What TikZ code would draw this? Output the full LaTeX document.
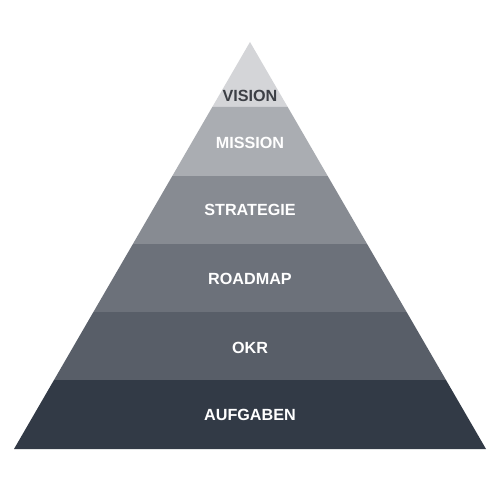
\documentclass[tikz,border=0pt]{standalone}
\usepackage{fontspec}
\setmainfont{Liberation Sans}
\usepackage{tikz}
\usetikzlibrary{backgrounds}
\definecolor{visionc}{HTML}{D4D5D8}
\definecolor{missionc}{HTML}{AAADB2}
\definecolor{strategiec}{HTML}{878B92}
\definecolor{roadmapc}{HTML}{6C717A}
\definecolor{okrc}{HTML}{585E68}
\definecolor{aufgabenc}{HTML}{323A46}
\definecolor{darktext}{HTML}{3C3F45}
\tikzstyle{pyr}=[x=0.02cm, y=-0.02cm, font=\fontsize{9.2}{11}\selectfont\bfseries]
\tikzstyle{band}=[draw=none]
\tikzstyle{lbl}=[inner sep=1pt, text=white]

\begin{document}
\begin{tikzpicture}[pyr]
	\useasboundingbox[fill=white] (0,0) rectangle (500,500);
	\fill[band, visionc] (250,42) -- (287.7,107) -- (212.3,107) -- cycle;
	\fill[band, missionc] (212.3,107) -- (287.7,107) -- (327.7,176) -- (172.3,176) -- cycle;
	\fill[band, strategiec] (172.3,176) -- (327.7,176) -- (367.1,244) -- (132.9,244) -- cycle;
	\fill[band, roadmapc] (132.9,244) -- (367.1,244) -- (406.6,312) -- (93.4,312) -- cycle;
	\fill[band, okrc] (93.4,312) -- (406.6,312) -- (446,380) -- (54,380) -- cycle;
	\fill[band, aufgabenc] (54,380) -- (446,380) -- (486,449) -- (14,449) -- cycle;
	\draw (250,96) node[lbl, text=darktext] (vision) {VISION};
	\draw (250,143) node[lbl] (mission) {MISSION};
	\draw (250,210) node[lbl] (strategie) {STRATEGIE};
	\draw (250,279) node[lbl] (roadmap) {ROADMAP};
	\draw (250,348) node[lbl] (okr) {OKR};
	\draw (250,415) node[lbl] (aufgaben) {AUFGABEN};
\end{tikzpicture}
\end{document}
